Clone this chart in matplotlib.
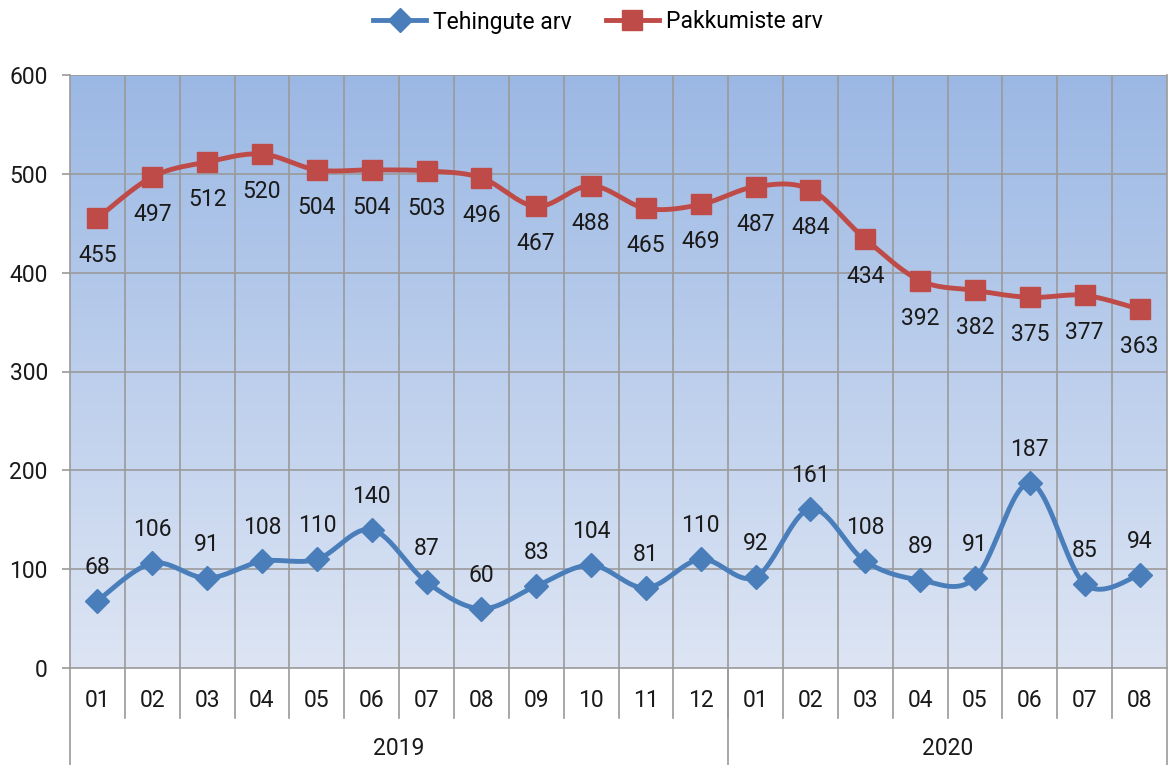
import numpy as np
import matplotlib.pyplot as plt
import matplotlib.transforms as mtransforms
from matplotlib.colors import LinearSegmentedColormap

plt.rcParams['font.family'] = ['Roboto', 'DejaVu Sans']

months = ['01', '02', '03', '04', '05', '06', '07', '08', '09', '10', '11', '12',
          '01', '02', '03', '04', '05', '06', '07', '08']
years = ['2019', '2020']
yearCounts = [12, 8]
tehingud = [68, 106, 91, 108, 110, 140, 87, 60, 83, 104, 81, 110,
            92, 161, 108, 89, 91, 187, 85, 94]
pakkumised = [455, 497, 512, 520, 504, 504, 503, 496, 467, 488, 465, 469,
              487, 484, 434, 392, 382, 375, 377, 363]

blue = '#4A7EBB'
red = '#BE4B48'
gridColor = '#9A9A9A'
textColor = '#1A1A1A'
fs = 16.5


def smooth(xs, ys, steps=30):
    # bezier curve like excel's smoothed line
    xs = np.asarray(xs, float)
    ys = np.asarray(ys, float)
    n = len(xs)
    outX, outY = [], []
    for i in range(n - 1):
        p0 = np.array([xs[max(i - 1, 0)], ys[max(i - 1, 0)]])
        p1 = np.array([xs[i], ys[i]])
        p2 = np.array([xs[i + 1], ys[i + 1]])
        p3 = np.array([xs[min(i + 2, n - 1)], ys[min(i + 2, n - 1)]])
        c1 = p1 + (p2 - p0) / 6
        c2 = p2 - (p3 - p1) / 6
        t = np.linspace(0, 1, steps)[:, None]
        pts = ((1 - t) ** 3) * p1 + 3 * ((1 - t) ** 2) * t * c1 + 3 * (1 - t) * t ** 2 * c2 + t ** 3 * p2
        outX.extend(pts[:, 0])
        outY.extend(pts[:, 1])
    return outX, outY


fig = plt.figure(figsize=(11.68, 7.65), dpi=100)
ax = fig.add_axes([70 / 1168, 1 - 668 / 765, 1097 / 1168, 593 / 765])

n = len(months)
x = np.arange(n)
ax.set_xlim(-0.5, n - 0.5)
ax.set_ylim(0, 600)

# gradient background
cmap = LinearSegmentedColormap.from_list('bg', ['#DDE5F4', '#9BB8E4'])
grad = np.linspace(0, 1, 256).reshape(-1, 1)
ax.imshow(grad, extent=[0, 1, 0, 1], transform=ax.transAxes, cmap=cmap,
          origin='lower', aspect='auto', zorder=0)

for yv in range(100, 601, 100):
    ax.axhline(yv, color=gridColor, lw=1.2, zorder=1)
for b in np.arange(0.5, n - 0.5, 1):
    ax.axvline(b, color=gridColor, lw=1.2, zorder=1)

for s in ax.spines.values():
    s.set_visible(False)
ax.set_xticks([])
ax.set_yticks(range(0, 601, 100))
ax.tick_params(axis='y', length=6, width=1.2, color=gridColor, labelsize=fs, pad=10,
               labelcolor=textColor)

trans = mtransforms.blended_transform_factory(ax.transData, ax.transAxes)
ax.plot([-0.5, n - 0.5], [0, 0], transform=trans, color=gridColor, lw=1.2, clip_on=False)
ax.plot([-0.5, -0.5], [-0.17, 1], transform=trans, color=gridColor, lw=1.2, clip_on=False)
ax.plot([n - 0.5, n - 0.5], [-0.17, 1], transform=trans, color=gridColor, lw=1.2, clip_on=False)

# month labels and separators
for i, m in enumerate(months):
    ax.text(i, -0.054, m, transform=trans, ha='center', va='center', fontsize=fs, color=textColor)
for b in np.arange(0.5, n - 0.5, 1):
    ax.plot([b, b], [0, -0.0843], transform=trans, color=gridColor, lw=1.2, clip_on=False)

# year labels
start = 0
for yr, cnt in zip(years, yearCounts):
    ax.text(start + (cnt - 1) / 2, -0.135, yr, transform=trans, ha='center', va='center',
            fontsize=fs, color=textColor)
    if start > 0:
        ax.plot([start - 0.5, start - 0.5], [0, -0.17], transform=trans, color=gridColor,
                lw=1.2, clip_on=False)
    start += cnt

sx, sy = smooth(x, tehingud)
ax.plot(sx, sy, color=blue, lw=3.5, zorder=3, solid_capstyle='round')
ax.plot(x, tehingud, ls='none', marker='D', ms=12, color=blue, zorder=4)
sx, sy = smooth(x, pakkumised)
ax.plot(sx, sy, color=red, lw=3.5, zorder=3, solid_capstyle='round')
ax.plot(x, pakkumised, ls='none', marker='s', ms=14, color=red, zorder=4)

for i in range(n):
    ax.annotate(str(tehingud[i]), (x[i], tehingud[i]), xytext=(0, 24), textcoords='offset points',
                ha='center', va='center', fontsize=fs, color=textColor, zorder=5)
    ax.annotate(str(pakkumised[i]), (x[i], pakkumised[i]), xytext=(0, -27), textcoords='offset points',
                ha='center', va='center', fontsize=fs, color=textColor, zorder=5)

# legend
h1, = ax.plot([], [], color=blue, lw=3.5, marker='D', ms=12, label='Tehingute arv')
h2, = ax.plot([], [], color=red, lw=3.5, marker='s', ms=14, label='Pakkumiste arv')
fig.legend(handles=[h1, h2], loc='center', bbox_to_anchor=(598 / 1168, 1 - 22 / 765), ncol=2,
           frameon=False, fontsize=fs, handlelength=2.3, columnspacing=1.5, handletextpad=0.3,
           borderpad=0.2)

fig.savefig('out.png', dpi=100)
